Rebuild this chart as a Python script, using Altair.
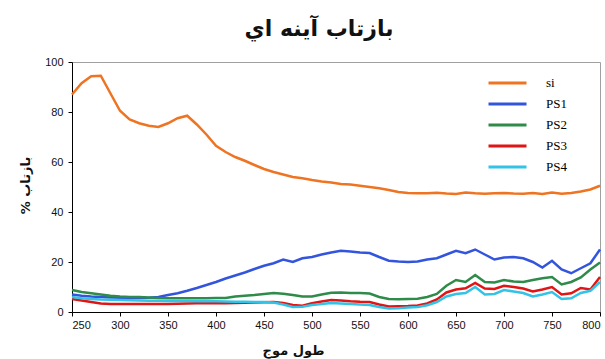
import altair as alt
import pandas as pd

# Wavelength grid (nm)
wavelength = list(range(250, 801, 10))

si = [87, 91.5, 94.3, 94.5, 87.5, 80.5, 77, 75.5, 74.5, 74, 75.5, 77.5, 78.5, 75, 71,
      66.5, 64, 62, 60.5, 58.8, 57.2, 56, 55, 54, 53.5, 52.8, 52.2, 51.8, 51.2,
      51, 50.5, 50, 49.5, 48.8, 48, 47.6, 47.5, 47.5, 47.7, 47.4, 47.2, 47.8,
      47.5, 47.3, 47.5, 47.6, 47.4, 47.3, 47.6, 47.2, 47.8, 47.3, 47.6, 48.2,
      49, 50.5]
ps1 = [7, 6.5, 6.2, 6, 5.8, 5.7, 5.6, 5.6, 5.7, 6, 6.8, 7.5, 8.5, 9.6, 10.8,
       12, 13.4, 14.6, 15.8, 17.2, 18.5, 19.5, 21, 20, 21.5, 22, 23, 23.8, 24.5,
       24.2, 23.8, 23.6, 22, 20.5, 20.2, 20, 20.2, 21, 21.5, 23, 24.5, 23.5, 25,
       23, 21, 21.8, 22, 21.5, 20, 17.8, 20.5, 17, 15.5, 17.5, 19.5, 25]
ps2 = [8.8, 8, 7.5, 7, 6.5, 6.2, 6, 6, 5.8, 5.6, 5.5, 5.5, 5.5, 5.5, 5.5, 5.6,
       5.6, 6.2, 6.5, 6.8, 7.2, 7.6, 7.3, 6.8, 6.2, 6.2, 7, 7.7, 7.8, 7.6, 7.6,
       7.4, 6, 5.2, 5.1, 5.2, 5.3, 6, 7.2, 10.5, 12.8, 12, 14.8, 12, 11.8, 12.8,
       12.2, 12, 12.8, 13.5, 14, 11, 12, 13.8, 17, 19.8]
ps3 = [5.2, 4.6, 4, 3.4, 3.2, 3.2, 3.2, 3.2, 3.2, 3.2, 3.2, 3.3, 3.4, 3.5, 3.5,
       3.6, 3.5, 3.6, 3.7, 3.8, 3.9, 4, 3.6, 2.8, 2.5, 3.5, 4.2, 4.8, 4.6, 4.3,
       4.1, 4, 3, 2.2, 2.3, 2.4, 2.6, 3.4, 5, 7.8, 9, 9.5, 11.6, 9.4, 9.2, 10.5,
       10, 9.4, 8.2, 9, 10, 7, 7.5, 9.6, 9, 14]
ps4 = [6, 5.5, 5.2, 5, 4.9, 4.8, 4.7, 4.6, 4.5, 4.5, 4.4, 4.4, 4.4, 4.3, 4.3,
       4.3, 4.2, 4.1, 4.1, 4, 4, 3.8, 3, 2, 2.1, 2.8, 3.2, 3.6, 3.4, 3.2, 3,
       2.8, 2, 1.4, 1.5, 1.8, 2, 2.7, 4, 6.2, 7.2, 7.6, 10, 7, 7.2, 8.8, 8.2,
       7.6, 6.2, 7, 8, 5.2, 5.5, 7.6, 8.5, 12]

series_names = ["si", "PS1", "PS2", "PS3", "PS4"]
series_colors = ["#EE7422", "#3355DD", "#2E8B4A", "#E01515", "#33C3E6"]
x_ticks = list(range(250, 801, 50))
y_ticks = [0, 20, 40, 60, 80, 100]

frames = []
for name, vals in zip(series_names, [si, ps1, ps2, ps3, ps4]):
    frames.append(pd.DataFrame({"wl": wavelength, "r": vals, "s": name}))
df = pd.concat(frames, ignore_index=True)
df["order"] = df["s"].map({n: i for i, n in enumerate(series_names)})

chart = alt.Chart(df).mark_line(strokeWidth=2.5).encode(
    x=alt.X("wl:Q",
            scale=alt.Scale(domain=[250, 800], nice=False, zero=False),
            axis=alt.Axis(values=x_ticks, title="طول موج",
                          titleX=221, titleY=38,
                          titleAlign="center", titleBaseline="middle")),
    y=alt.Y("r:Q",
            scale=alt.Scale(domain=[0, 100], nice=False),
            axis=alt.Axis(values=y_ticks, title="% بازتاب",
                          titleX=-47, titleY=123,
                          titleAlign="center", titleBaseline="middle")),
    color=alt.Color("s:N",
                    scale=alt.Scale(domain=series_names, range=series_colors),
                    legend=alt.Legend(title=None, orient="none",
                                      legendX=415, legendY=12,
                                      symbolType="stroke", symbolSize=1444,
                                      symbolStrokeWidth=3, clipHeight=18,
                                      rowPadding=3, labelOffset=18,
                                      padding=0,
                                      labelFont="Liberation Serif",
                                      labelFontSize=13, labelColor="#000")),
    detail="s:N",
    order="order:Q",
).properties(
    width=528, height=250,
    title=alt.TitleParams("بازتاب آينه اي", font="DejaVu Sans",
                          fontSize=22, fontWeight="bold", color="#111",
                          dx=-17, offset=15, anchor="middle"),
    autosize=alt.AutoSizeParams(type="none"),
    padding={"left": 72, "top": 62, "right": 5, "bottom": 47},
).configure_view(
    stroke="#a0a0a0", strokeWidth=1
).configure_axis(
    grid=False,
    labelFont="Liberation Sans", labelFontSize=11, labelColor="#111",
    domainColor="#000", tickColor="#000", tickSize=4,
    titleFont="DejaVu Sans", titleFontSize=13, titleFontWeight="bold",
    titleColor="#111",
).configure_axisY(labelPadding=5).configure_axisX(labelPadding=3)

chart.save("out.html", embed_options={"renderer": "svg", "actions": False})
